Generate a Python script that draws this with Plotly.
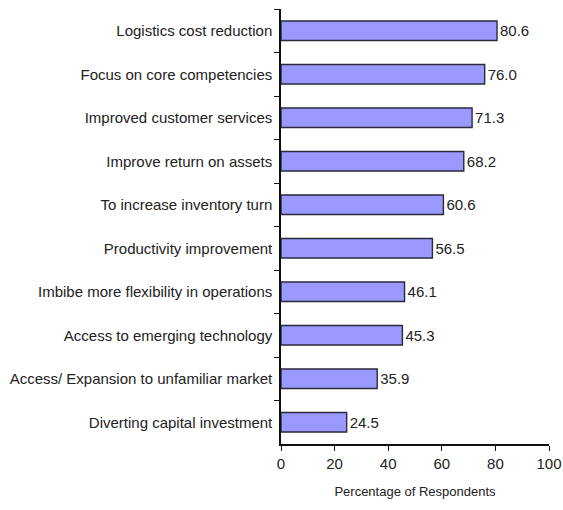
import plotly.graph_objects as go

# Reasons for outsourcing logistics, share of respondents (%)
reasons = [
    "Logistics cost reduction",
    "Focus on core competencies",
    "Improved customer services",
    "Improve return on assets",
    "To increase inventory turn",
    "Productivity improvement",
    "Imbibe more flexibility in operations",
    "Access to emerging technology",
    "Access/ Expansion to unfamiliar market",
    "Diverting capital investment",
]
percentages = [80.6, 76.0, 71.3, 68.2, 60.6, 56.5, 46.1, 45.3, 35.9, 24.5]
x_ticks = [0, 20, 40, 60, 80, 100]

FONT = "Liberation Sans, Arial, sans-serif"

fig = go.Figure(
    go.Bar(
        x=percentages,
        y=reasons,
        orientation="h",
        marker=dict(color="#9999ff", line=dict(color="#2a2a3a", width=1.4)),
        text=percentages,
        texttemplate="%{x:.1f}",
        textposition="outside",
        textfont=dict(family=FONT, size=15, color="#222222"),
        cliponaxis=False,
    )
)

fig.update_layout(
    width=563,
    height=510,
    margin=dict(l=281, r=14, t=9, b=66),
    paper_bgcolor="white",
    plot_bgcolor="white",
    bargap=0.55,
    showlegend=False,
    font=dict(family=FONT, color="#222222"),
)

fig.update_xaxes(
    range=[0, 100],
    tickvals=x_ticks,
    ticks="outside",
    ticklen=5,
    tickcolor="#111111",
    showline=True,
    linecolor="#111111",
    linewidth=1.5,
    showgrid=False,
    zeroline=False,
    automargin=False,
    tickfont=dict(family=FONT, size=15),
    title=dict(text="Percentage of Respondents", font=dict(family=FONT, size=13), standoff=16),
)

fig.update_yaxes(
    autorange="reversed",
    ticks="outside",
    tickson="boundaries",
    ticklen=5,
    tickcolor="#111111",
    showline=True,
    linecolor="#111111",
    linewidth=1.5,
    showgrid=False,
    automargin=False,
    tickfont=dict(family=FONT, size=15),
    ticklabelstandoff=4,
)

fig.write_html("out.html")
